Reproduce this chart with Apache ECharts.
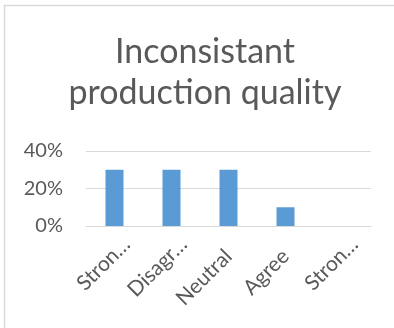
<!DOCTYPE html>
<html>
<head>
<meta charset="utf-8">
<script src="https://cdn.jsdelivr.net/npm/echarts@6/dist/echarts.min.js"></script>
<style>
  html, body { margin: 0; padding: 0; background: #ffffff; }
  #chart { width: 394px; height: 328px; }
</style>
</head>
<body>
<div id="chart"></div>
<script>
// Survey responses for one statement
const chartTitle = 'Inconsistant\nproduction quality';
const categories = ['Strongly Disagree', 'Disagree', 'Neutral', 'Agree', 'Strongly Agree'];
const tickLabels = ['Stron…', 'Disagr…', 'Neutral', 'Agree', 'Stron…'];
const truncated = [true, true, false, false, true];
const shares = [0.30, 0.30, 0.30, 0.10, 0.00];
const yTicks = [0, 0.2, 0.4];

const textColor = '#595959';
const gridColor = '#d9d9d9';
const fontFamily = 'Lato, "Open Sans", sans-serif';

const chart = echarts.init(document.getElementById('chart'), null, { renderer: 'canvas' });

// Shortened labels sit further along their slant than the complete ones
const axisData = categories.map((name, i) => truncated[i]
  ? { value: name, textStyle: { padding: [0, -17, 0, 0] } }
  : { value: name });

chart.setOption({
  animation: false,
  backgroundColor: '#ffffff',
  graphic: [{
    type: 'rect',
    silent: true,
    shape: { x: 4.5, y: 5.5, width: 420, height: 400 },
    style: { fill: null, stroke: gridColor, lineWidth: 1.5 }
  }],
  title: {
    text: chartTitle,
    left: 200,
    top: 27,
    textAlign: 'center',
    textStyle: {
      fontFamily: fontFamily,
      fontSize: 34,
      fontWeight: 'normal',
      color: textColor,
      lineHeight: 41
    }
  },
  grid: { left: 86, right: 23, top: 151, bottom: 102, containLabel: false },
  xAxis: {
    type: 'category',
    data: axisData,
    axisLine: { show: true, lineStyle: { color: gridColor, width: 1 } },
    axisTick: { show: false },
    axisLabel: {
      interval: 0,
      rotate: 45,
      margin: 27,
      fontFamily: fontFamily,
      fontSize: 21,
      color: textColor,
      formatter: (value, index) => tickLabels[index]
    }
  },
  yAxis: {
    type: 'value',
    min: yTicks[0],
    max: yTicks[yTicks.length - 1],
    interval: yTicks[1] - yTicks[0],
    axisLine: { show: false },
    axisTick: { show: false },
    splitLine: { lineStyle: { color: gridColor, width: 1 } },
    axisLabel: {
      margin: 23,
      fontFamily: fontFamily,
      fontSize: 20,
      color: textColor,
      formatter: v => Math.round(v * 100) + '%'
    }
  },
  series: [{
    type: 'bar',
    data: shares,
    barWidth: '31.6%',
    itemStyle: { color: '#5b9bd5' }
  }]
});
</script>
</body>
</html>
